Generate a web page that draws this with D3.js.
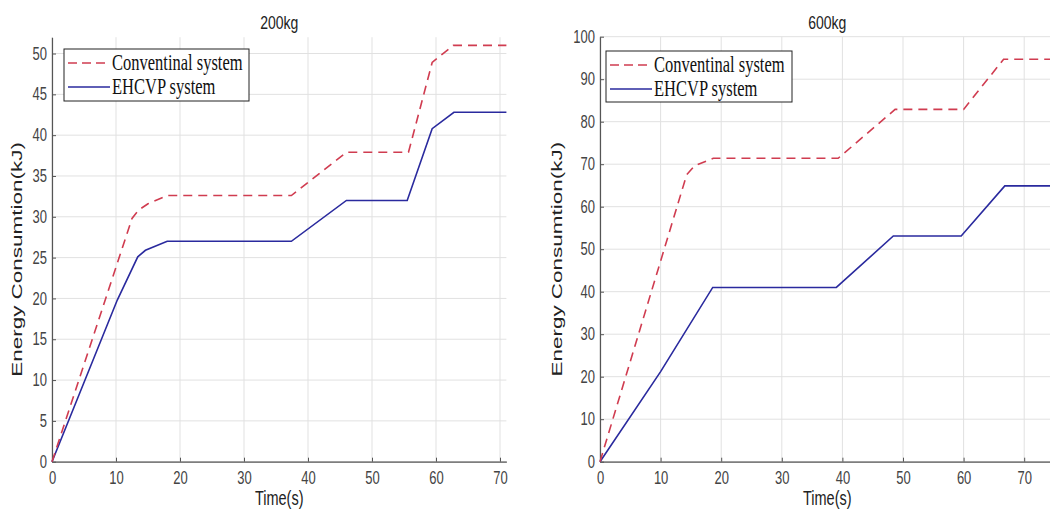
<!DOCTYPE html>
<html><head><meta charset="utf-8">
<script src="https://cdn.jsdelivr.net/npm/d3@7/dist/d3.min.js"></script>
<style>body{margin:0;background:#fff}svg{display:block}</style>
</head><body>
<svg id="c" width="1050" height="520"></svg>
<script>
// ---- data ----
const seriesNames = ["Conventinal system", "EHCVP system"];
const titles = ["200kg", "600kg"];
const xLabel = "Time(s)";
const yLabel = "Energy Consumtion(kJ)";

const t200Conv = [0, 12.5, 13.5, 15, 18, 37.4, 46, 55.7, 59.4, 61.1, 62.7, 71];
const e200Conv = [0, 29.8, 30.8, 31.6, 32.6, 32.6, 37.9, 37.9, 48.9, 50.0, 51.0, 51.0];
const t200Ehcvp = [0, 10.2, 13.4, 14.6, 18, 37.4, 46, 55.5, 59.4, 62.8, 71];
const e200Ehcvp = [0, 19.8, 25.1, 25.9, 27, 27, 32, 32, 40.8, 42.8, 42.8];

const t600Conv = [0, 14.3, 15.6, 18.7, 39.3, 48.7, 60, 66.6, 75];
const e600Conv = [0, 67.5, 69.6, 71.4, 71.4, 82.9, 82.9, 94.7, 94.7];
const t600Ehcvp = [0, 10, 18.6, 39, 48.4, 59.6, 66.8, 75];
const e600Ehcvp = [0, 21.2, 41, 41, 53.1, 53.1, 64.9, 64.9];

const xTicks = [0, 10, 20, 30, 40, 50, 60, 70];
const yTicks200 = [0, 5, 10, 15, 20, 25, 30, 35, 40, 45, 50];
const yTicks600 = [0, 10, 20, 30, 40, 50, 60, 70, 80, 90, 100];

// ---- drawing ----
const svg = d3.select("#c");
const S = 1.35; // vertical text stretch as in the reference
const sans = "'Liberation Sans', Arial, sans-serif";
const serif = "'Liberation Serif', 'Times New Roman', serif";
const RED = "#d03c50", BLUE = "#2a2a9e";

function panel(cfg) {
  const x = d3.scaleLinear().domain(cfg.xDom).range([cfg.x0, cfg.x1]);
  const y = d3.scaleLinear().domain(cfg.yDom).range([cfg.y0, cfg.y1]);
  const g = svg.append("g");

  // grid
  g.append("g").selectAll("line").data(xTicks).join("line")
    .attr("x1", d => x(d)).attr("x2", d => x(d))
    .attr("y1", cfg.y0).attr("y2", cfg.y1)
    .attr("stroke", "#e1e1e1").attr("stroke-width", 1);
  g.append("g").selectAll("line").data(cfg.yTicks).join("line")
    .attr("x1", cfg.x0).attr("x2", cfg.x1)
    .attr("y1", d => y(d)).attr("y2", d => y(d))
    .attr("stroke", "#e1e1e1").attr("stroke-width", 1);

  // axes
  const ax = g.append("g").attr("transform", `translate(0,${cfg.y0})`)
    .call(d3.axisBottom(x).tickValues(xTicks).tickSizeInner(-4).tickSizeOuter(0).tickPadding(0));
  const ay = g.append("g").attr("transform", `translate(${cfg.x0},0)`)
    .call(d3.axisLeft(y).tickValues(cfg.yTicks).tickSizeInner(-4).tickSizeOuter(0).tickPadding(0));
  [ax, ay].forEach(a => {
    a.select(".domain").attr("stroke", "#555").attr("stroke-width", 1.2);
    a.selectAll(".tick line").attr("stroke", "#555");
    a.selectAll(".tick text").attr("fill", "#444")
      .style("font-family", sans).style("font-size", "13px");
  });
  ax.selectAll(".tick text").attr("y", 0).attr("dy", "0.71em")
    .attr("transform", `translate(0,10) scale(1,${S})`);
  ay.selectAll(".tick text").attr("x", 0).attr("dy", "0.32em")
    .attr("transform", `translate(-5,0) scale(1,${S})`);

  // lines
  const line = d3.line().x(d => x(d[0])).y(d => y(d[1]));
  g.append("path").datum(d3.zip(cfg.tb, cfg.eb)).attr("d", line)
    .attr("fill", "none").attr("stroke", BLUE).attr("stroke-width", 1.6);
  g.append("path").datum(d3.zip(cfg.tr, cfg.er)).attr("d", line)
    .attr("fill", "none").attr("stroke", RED).attr("stroke-width", 1.6)
    .attr("stroke-dasharray", "9,6");

  // title and labels
  const cx = (cfg.x0 + cfg.x1) / 2;
  g.append("text").attr("transform", `translate(${cx},29) scale(1,${S})`)
    .attr("text-anchor", "middle").style("font-family", sans).style("font-size", "14px")
    .attr("fill", "#222").text(cfg.title);
  g.append("text").attr("transform", `translate(${cx},505) scale(1,${S})`)
    .attr("text-anchor", "middle").style("font-family", sans).style("font-size", "14.5px")
    .attr("fill", "#222").text(xLabel);
  g.append("text").attr("transform", `translate(${cfg.ylx},${(cfg.y0 + cfg.y1) / 2 + 10}) rotate(-90) scale(1.45,1)`)
    .attr("text-anchor", "middle").style("font-family", sans).style("font-size", "15.5px")
    .attr("fill", "#222").text(yLabel);

  // legend
  const L = cfg.leg;
  g.append("rect").attr("x", L.x).attr("y", L.y).attr("width", L.w).attr("height", L.h)
    .attr("fill", "#fff").attr("stroke", "#222").attr("stroke-width", 1);
  const rows = [{c: RED, dash: "9,5"}, {c: BLUE, dash: null}];
  rows.forEach((r, i) => {
    const yy = L.y + 14 + i * 24;
    g.append("line").attr("x1", L.x + 4).attr("x2", L.x + 46).attr("y1", yy).attr("y2", yy)
      .attr("stroke", r.c).attr("stroke-width", 1.6).attr("stroke-dasharray", r.dash);
    g.append("text").attr("transform", `translate(${L.x + 48},${yy + 7}) scale(1,1.4)`)
      .style("font-family", serif).style("font-size", "16.5px").attr("fill", "#111")
      .text(seriesNames[i]);
  });
}

panel({x0: 52, x1: 506.4, y0: 461.7, y1: 37.2, xDom: [0, 71], yDom: [0, 52],
  yTicks: yTicks200, title: titles[0], ylx: 22,
  tr: t200Conv, er: e200Conv, tb: t200Ehcvp, eb: e200Ehcvp,
  leg: {x: 64, y: 49, w: 185, h: 52}});
panel({x0: 600, x1: 1054.5, y0: 461.7, y1: 36.7, xDom: [0, 75], yDom: [0, 100],
  yTicks: yTicks600, title: titles[1], ylx: 562,
  tr: t600Conv, er: e600Conv, tb: t600Ehcvp, eb: e600Ehcvp,
  leg: {x: 606, y: 51, w: 186, h: 51}});
</script>
</body></html>
